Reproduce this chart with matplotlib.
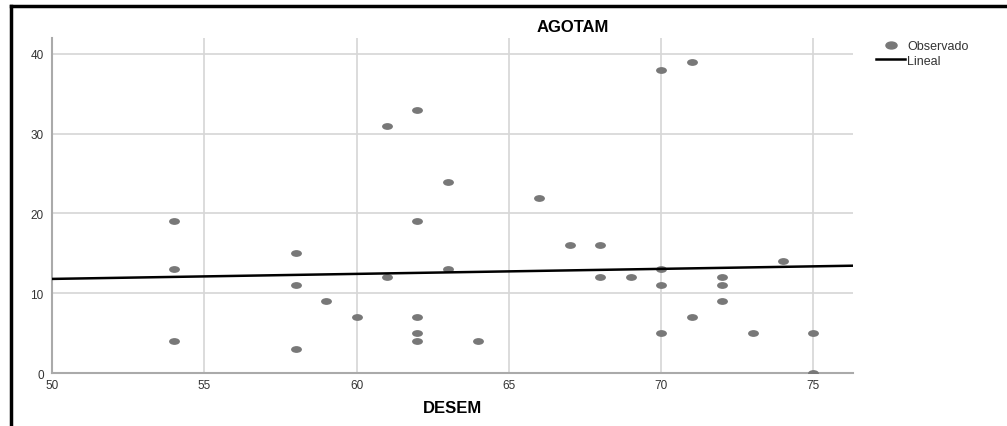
import numpy as np
import matplotlib.pyplot as plt
from matplotlib.lines import Line2D
from matplotlib.markers import MarkerStyle
from matplotlib.transforms import Affine2D

plt.rcParams['font.family'] = ['Liberation Sans', 'DejaVu Sans']

# observed points (DESEM, AGOTAM)
desem = [54, 54, 54, 58, 58, 58, 59, 60, 61, 61, 62, 62, 62, 62, 62, 63, 63, 64,
         66, 67, 68, 68, 69, 70, 70, 70, 70, 71, 71, 72, 72, 72, 73, 74, 75, 75]
agotam = [19, 13, 4, 15, 11, 3, 9, 7, 31, 12, 33, 19, 7, 5, 4, 24, 13, 4,
          22, 16, 16, 12, 12, 38, 13, 11, 5, 39, 7, 12, 11, 9, 5, 14, 5, 0]

# linear fit as shown on the chart
fit_intercept = 8.65
fit_slope = 0.063

x_ticks = [50, 55, 60, 65, 70, 75]
y_ticks = [0, 10, 20, 30, 40]
x_lim = (50, 76.3)
y_lim = (0, 42)

fig = plt.figure(figsize=(10.07, 4.27), dpi=100)
ax = fig.add_axes([0.0516, 0.124, 0.7955, 0.7847])

dot = MarkerStyle('o', transform=Affine2D().scale(1.6, 1.0))
ax.scatter(desem, agotam, marker=dot, s=24, color='#787878', zorder=3, linewidths=0)
xs = np.array(x_lim)
ax.plot(xs, fit_intercept + fit_slope * xs, color='black', lw=1.8, zorder=4)

ax.set_xlim(*x_lim)
ax.set_ylim(*y_lim)
ax.set_xticks(x_ticks)
ax.set_yticks(y_ticks)
ax.tick_params(length=0, labelsize=8.5, colors='#333333')
ax.tick_params(axis='x', pad=4)
ax.tick_params(axis='y', pad=6)
ax.grid(True, color='#d6d6d6', lw=1.2)
ax.set_axisbelow(True)
for s in ['top', 'right']:
    ax.spines[s].set_visible(False)
for s in ['left', 'bottom']:
    ax.spines[s].set_color('#aaaaaa')
    ax.spines[s].set_linewidth(1.5)

fig.text(0.569, 0.935, 'AGOTAM', ha='center', va='center', fontsize=12,
         fontweight='bold')
fig.text(0.449, 0.044, 'DESEM', ha='center', va='center', fontsize=12,
         fontweight='bold')

handles = [Line2D([], [], marker=dot, ls='none', color='#787878', markersize=5),
           Line2D([], [], color='black', lw=1.8)]
fig.legend(handles, ['Observado', 'Lineal'], loc='upper left',
           bbox_to_anchor=(0.864, 0.918), frameon=False, fontsize=9,
           handlelength=2.3, handletextpad=0.15, labelspacing=0.2,
           borderpad=0, labelcolor='#333333')

# outer frame (top and left)
fig.add_artist(Line2D([0.0105, 1.0], [0.983, 0.983], color='black', lw=2.5,
                      transform=fig.transFigure))
fig.add_artist(Line2D([0.0105, 0.0105], [0.0, 0.983], color='black', lw=2.5,
                      transform=fig.transFigure))

fig.savefig('out.png', dpi=100)
